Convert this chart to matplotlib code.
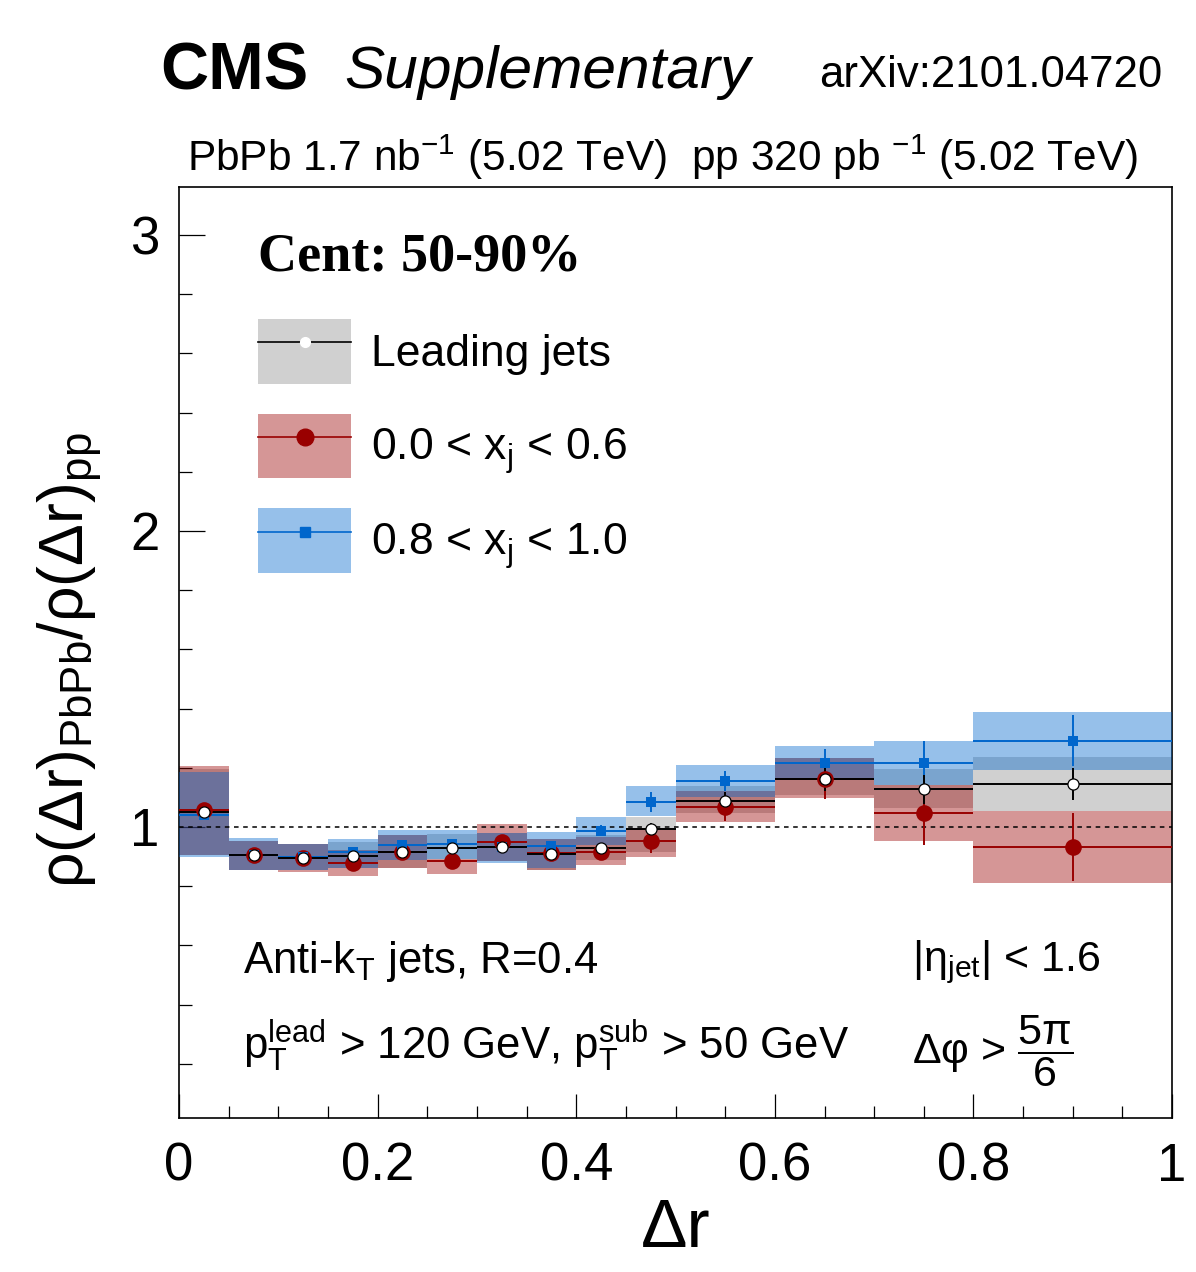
import matplotlib
matplotlib.use("Agg")
import matplotlib.pyplot as plt
from matplotlib.patches import Patch
from matplotlib.lines import Line2D
from matplotlib.ticker import MultipleLocator
import numpy as np

plt.rcParams['font.family'] = ['Liberation Sans', 'DejaVu Sans']
plt.rcParams['mathtext.fontset'] = 'custom'
plt.rcParams['mathtext.rm'] = 'Liberation Sans'
plt.rcParams['mathtext.it'] = 'Liberation Sans:italic'
plt.rcParams['mathtext.bf'] = 'Liberation Sans:bold'

# bin edges in delta r
edges = [0, 0.05, 0.1, 0.15, 0.2, 0.25, 0.3, 0.35, 0.4, 0.45, 0.5, 0.6, 0.7, 0.8, 1.0]

# leading jets
lead_val = [1.051, 0.905, 0.896, 0.902, 0.917, 0.928, 0.934, 0.909, 0.928, 0.992, 1.089, 1.161, 1.127, 1.145]
lead_stat = [0.010, 0.006, 0.006, 0.008, 0.008, 0.010, 0.010, 0.010, 0.012, 0.020, 0.030, 0.040, 0.048, 0.055]
lead_lo = [0.906, 0.856, 0.855, 0.860, 0.863, 0.891, 0.886, 0.855, 0.889, 0.917, 1.048, 1.108, 1.063, 1.054]
lead_hi = [1.196, 0.953, 0.943, 0.948, 0.973, 0.976, 0.980, 0.959, 0.972, 1.035, 1.139, 1.232, 1.195, 1.238]

# 0.0 < xj < 0.6
red_val = [1.057, 0.905, 0.895, 0.877, 0.915, 0.886, 0.950, 0.911, 0.917, 0.953, 1.069, 1.163, 1.046, 0.931]
red_stat = [0.010, 0.008, 0.008, 0.010, 0.010, 0.012, 0.012, 0.012, 0.015, 0.040, 0.048, 0.067, 0.107, 0.115]
red_lo = [0.907, 0.856, 0.848, 0.836, 0.863, 0.842, 0.886, 0.855, 0.872, 0.900, 1.018, 1.099, 0.954, 0.812]
red_hi = [1.207, 0.953, 0.943, 0.922, 0.973, 0.891, 1.010, 0.959, 0.967, 0.995, 1.122, 1.232, 1.142, 1.054]

# 0.8 < xj < 1.0
blue_val = [1.040, 0.905, 0.897, 0.914, 0.938, 0.942, 0.931, 0.935, 0.988, 1.084, 1.155, 1.215, 1.217, 1.292]
blue_stat = [0.010, 0.006, 0.008, 0.012, 0.012, 0.012, 0.012, 0.015, 0.020, 0.035, 0.035, 0.050, 0.075, 0.085]
blue_lo = [0.900, 0.856, 0.855, 0.860, 0.889, 0.891, 0.879, 0.863, 0.939, 1.037, 1.100, 1.159, 1.142, 1.193]
blue_hi = [1.187, 0.962, 0.943, 0.959, 0.990, 0.990, 0.980, 0.982, 1.033, 1.139, 1.209, 1.274, 1.290, 1.389]

edges = np.array(edges)
centers = 0.5 * (edges[:-1] + edges[1:])
widths = np.diff(edges)

c_red = '#990000'
c_blue = '#0066cc'
c_gray = '#d0d0d0'

fig = plt.figure(figsize=(11.96, 12.72), dpi=100)
ax = fig.add_axes([0.1497, 0.1211, 0.8303, 0.7319])

# systematic boxes
ax.bar(edges[:-1], np.array(lead_hi) - np.array(lead_lo), bottom=lead_lo, width=widths,
       align='edge', color=c_gray, lw=0, zorder=1)
ax.bar(edges[:-1], np.array(red_hi) - np.array(red_lo), bottom=red_lo, width=widths,
       align='edge', color=c_red, alpha=0.41, lw=0, zorder=2)
ax.bar(edges[:-1], np.array(blue_hi) - np.array(blue_lo), bottom=blue_lo, width=widths,
       align='edge', color=c_blue, alpha=0.41, lw=0, zorder=3)

ax.axhline(1, color='k', lw=1.1, ls=(0, (3, 3)), zorder=4)

# stat errors
ax.errorbar(centers, red_val, xerr=widths / 2, yerr=red_stat, fmt='none', ecolor=c_red, elinewidth=1.4, zorder=5)
ax.errorbar(centers, blue_val, xerr=widths / 2, yerr=blue_stat, fmt='none', ecolor=c_blue, elinewidth=1.4, zorder=5)
ax.errorbar(centers, lead_val, xerr=widths / 2, yerr=lead_stat, fmt='none', ecolor='k', elinewidth=1.4, zorder=6)

ax.plot(centers, red_val, 'o', color=c_red, ms=12, mew=0, ls='none', zorder=7)
ax.plot(centers, blue_val, 's', color=c_blue, ms=6.5, mew=0, ls='none', zorder=7)
ax.plot(centers, lead_val, 'o', mfc='white', mec='k', ms=8, mew=0.9, ls='none', zorder=8)

ax.set_xlim(0, 1)
ax.set_ylim(0.017, 3.162)
ax.xaxis.set_minor_locator(MultipleLocator(0.05))
ax.yaxis.set_minor_locator(MultipleLocator(0.2))
ax.set_xticks([0, 0.2, 0.4, 0.6, 0.8, 1.0])
ax.set_xticklabels(['0', '0.2', '0.4', '0.6', '0.8', '1'])
ax.set_yticks([1, 2, 3])
ax.set_yticklabels(['1', '2', '3'])
ax.tick_params(which='both', direction='in', top=False, right=False, width=0.9, labelsize=38)
ax.tick_params(axis='x', which='major', length=17, pad=17)
ax.tick_params(axis='x', which='minor', length=9)
ax.tick_params(axis='y', which='major', length=19, pad=14)
ax.tick_params(axis='y', which='minor', length=9.5)
for s in ax.spines.values():
    s.set_linewidth(1.2)

ax.set_xlabel('Δr', fontsize=50, labelpad=4)
fig.text(0.0585, 0.481, r'ρ(Δr)$_{\mathrm{PbPb}}$/ρ(Δr)$_{\mathrm{pp}}$', rotation=90,
         fontsize=45, ha='center', va='center')

# header
fig.text(0.134, 0.943, 'CMS', fontsize=48, fontweight='bold', va='center', ha='left')
fig.text(0.288, 0.943, 'Supplementary', fontsize=43.5, style='italic', va='center', ha='left')
fig.text(0.9716, 0.941, 'arXiv:2101.04720', fontsize=31.5, va='center', ha='right')
fig.text(0.156, 0.8766, r'PbPb 1.7 nb$^{-1}$ (5.02 TeV)  pp 320 pb $^{-1}$ (5.02 TeV)',
         fontsize=30.5, va='center', ha='left')

ax.text(0.08, 0.924, 'Cent: 50-90%', transform=ax.transAxes, fontsize=39,
        family=['Liberation Serif'], fontweight='bold', va='center', ha='left')

# legend
h_lead = (Patch(facecolor=c_gray, lw=0),
          Line2D([], [], color='k', lw=1.2, marker='o', mfc='white', mec='white', ms=7))
h_red = (Patch(facecolor=c_red, alpha=0.41, lw=0),
         Line2D([], [], color=c_red, lw=1.2, marker='o', mfc=c_red, mec=c_red, ms=12))
h_blue = (Patch(facecolor=c_blue, alpha=0.41, lw=0),
          Line2D([], [], color=c_blue, lw=1.2, marker='s', mfc=c_blue, mec=c_blue, ms=7))
ax.legend([h_lead, h_red, h_blue],
          ['Leading jets', r'0.0 < x$_{\mathrm{j}}$ < 0.6', r'0.8 < x$_{\mathrm{j}}$ < 1.0'],
          loc='upper left', bbox_to_anchor=(0.0796, 0.858), frameon=False, fontsize=32,
          handlelength=2.1, handleheight=1.85, handletextpad=0.45, labelspacing=0.68,
          borderpad=0, borderaxespad=0)

# cuts
ax.text(0.0645, 0.1676, r'Anti-k$_{\mathrm{T}}$ jets, R=0.4', transform=ax.transAxes,
        fontsize=31.5, va='center', ha='left')
ax.text(0.0645, 0.078, r'$\mathrm{p}_{\mathrm{T}}^{\mathrm{lead}}$ > 120 GeV, $\mathrm{p}_{\mathrm{T}}^{\mathrm{sub}}$ > 50 GeV',
        transform=ax.transAxes, fontsize=31.5, va='center', ha='left')
ax.text(0.738, 0.1676, r'|η$_{\mathrm{jet}}$| < 1.6', transform=ax.transAxes,
        fontsize=31, va='center', ha='left')
ax.text(0.738, 0.072, r'Δφ > $\dfrac{\mathrm{5π}}{\mathrm{6}}$', transform=ax.transAxes,
        fontsize=31, va='center', ha='left')

fig.savefig('out.png', dpi=100)
